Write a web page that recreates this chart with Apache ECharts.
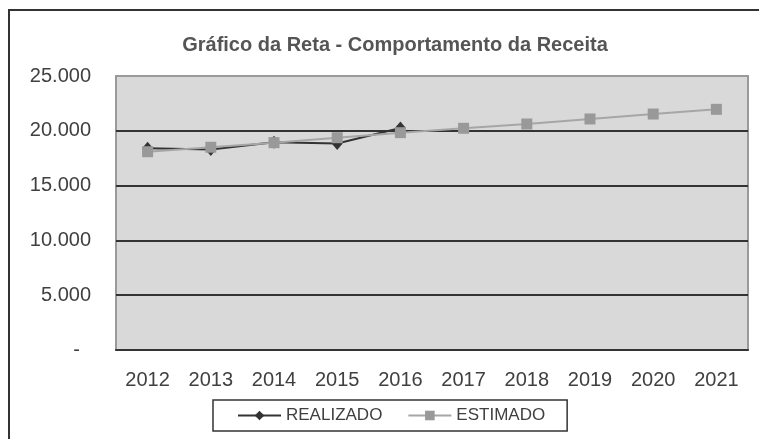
<!DOCTYPE html>
<html>
<head>
<meta charset="utf-8">
<script src="https://cdn.jsdelivr.net/npm/echarts@6/dist/echarts.min.js"></script>
<style>
  html, body { margin: 0; padding: 0; background: #fff; }
  #chart { width: 759px; height: 439px; }
</style>
</head>
<body>
<div id="chart"></div>
<script>
// chart data
const years = ['2012', '2013', '2014', '2015', '2016', '2017', '2018', '2019', '2020', '2021'];
const realizado = [18400, 18300, 18950, 18850, 20250];
const estimado = [18090, 18500, 18920, 19370, 19830, 20230, 20620, 21080, 21530, 21960];
const yTicks = [0, 5000, 10000, 15000, 20000, 25000];

const fontFamily = '"Liberation Sans", Arial, sans-serif';

const chart = echarts.init(document.getElementById('chart'));

chart.setOption({
  backgroundColor: '#fff',
  animation: false,
  title: {
    text: 'Gráfico da Reta - Comportamento da Receita',
    left: 390,
    textAlign: 'center',
    top: 30,
    textStyle: { fontFamily, fontSize: 20, fontWeight: 'bold', color: '#555' }
  },
  graphic: [{
    type: 'rect',
    shape: { x: 9, y: 10, width: 760, height: 460 },
    style: { fill: 'none', stroke: '#333', lineWidth: 2 },
    silent: true
  }],
  legend: {
    left: 213,
    top: 400,
    padding: [7, 22, 7, 24],
    borderColor: '#333',
    borderWidth: 1.5,
    itemWidth: 43,
    itemHeight: 12,
    itemGap: 25,
    textStyle: { fontFamily, fontSize: 17, color: '#404040' },
    data: ['REALIZADO', 'ESTIMADO']
  },
  grid: {
    left: 116,
    right: 11,
    top: 76,
    bottom: 89,
    show: true,
    backgroundColor: '#d9d9d9',
    borderColor: '#9a9a9a',
    borderWidth: 2
  },
  xAxis: {
    type: 'category',
    data: years,
    boundaryGap: true,
    axisLine: { lineStyle: { color: '#333', width: 2 } },
    axisTick: { show: false },
    axisLabel: { fontFamily, fontSize: 20, color: '#404040', margin: 20 }
  },
  yAxis: {
    type: 'value',
    min: yTicks[0],
    max: yTicks[yTicks.length - 1],
    interval: 5000,
    axisLine: { show: false },
    axisTick: { show: false },
    splitLine: {
      show: true,
      showMinLine: false,
      showMaxLine: false,
      lineStyle: { color: '#333', width: 2 }
    },
    axisLabel: {
      fontFamily,
      fontSize: 20,
      color: '#404040',
      margin: 25,
      formatter: v => v === 0 ? '-  ' : v.toLocaleString('pt-BR')
    }
  },
  series: [
    {
      name: 'REALIZADO',
      type: 'line',
      data: realizado,
      symbol: 'diamond',
      symbolSize: [11, 13],
      lineStyle: { color: '#333', width: 2 },
      itemStyle: { color: '#333' },
      z: 2
    },
    {
      name: 'ESTIMADO',
      type: 'line',
      data: estimado,
      symbol: 'rect',
      symbolSize: 11,
      lineStyle: { color: '#a6a6a6', width: 2 },
      itemStyle: { color: '#999' },
      z: 3
    }
  ]
});
</script>
</body>
</html>
